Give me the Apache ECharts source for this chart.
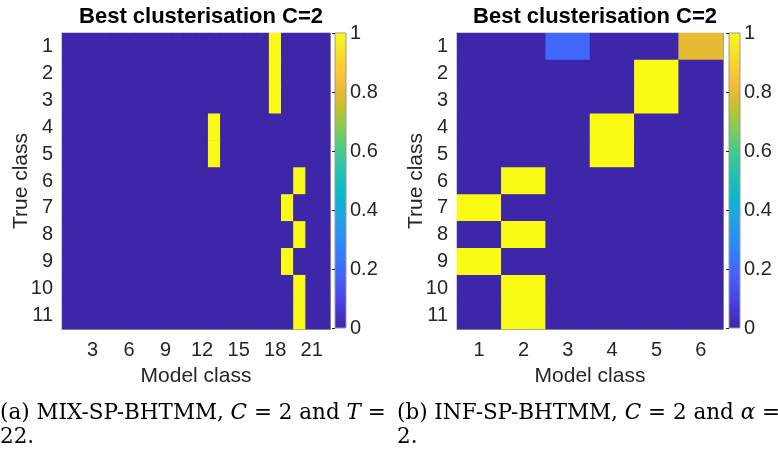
<!DOCTYPE html>
<html>
<head>
<meta charset="utf-8">
<script src="https://cdn.jsdelivr.net/npm/echarts@6/dist/echarts.min.js"></script>
<style>
  html, body { margin: 0; padding: 0; background: #fff; }
  #main { width: 778px; height: 452px; }
</style>
</head>
<body>
<div id="main"></div>
<script>
// true classes (rows) and model classes (columns)
var trueClasses = ['1', '2', '3', '4', '5', '6', '7', '8', '9', '10', '11'];
var leftModelClasses = [];
for (var k = 1; k <= 22; k++) leftModelClasses.push(String(k));
var rightModelClasses = ['1', '2', '3', '4', '5', '6'];

// (a) MIX-SP-BHTMM: model class that gets value 1 for each true class
var leftAssign = [18, 18, 18, 13, 13, 20, 19, 20, 19, 20, 20];

// (b) INF-SP-BHTMM: full matrix, one row per true class
var rightValues = [
  [0, 0, 0.2, 0, 0, 0.8],
  [0, 0, 0, 0, 1, 0],
  [0, 0, 0, 0, 1, 0],
  [0, 0, 0, 1, 0, 0],
  [0, 0, 0, 1, 0, 0],
  [0, 1, 0, 0, 0, 0],
  [1, 0, 0, 0, 0, 0],
  [0, 1, 0, 0, 0, 0],
  [1, 0, 0, 0, 0, 0],
  [0, 1, 0, 0, 0, 0],
  [0, 1, 0, 0, 0, 0]
];

// parula colormap, evenly spaced stops
var parula = ['#3E26A8', '#4537D5', '#484DF0', '#4563FD', '#327CFC', '#2B91EF', '#20A5E3', '#08B5D0',
  '#19BFB6', '#31C69F', '#57CC7A', '#8FCB4E', '#C5C22A', '#F0BA36', '#FEC934', '#F5E327', '#F9FB15'];

var leftData = [];
leftAssign.forEach(function (col, r) {
  for (var c = 0; c < leftModelClasses.length; c++) {
    leftData.push([c, r, (c + 1) === col ? 1 : 0]);
  }
});
var rightData = [];
rightValues.forEach(function (row, r) {
  row.forEach(function (v, c) { rightData.push([c, r, v]); });
});

var font = 'Liberation Sans';
var txt = '#262626';
var boxColor = '#9a9a9a';
var capFont = 'DejaVu Serif';
var capSize = 21.5;

function gradient() {
  var stops = parula.map(function (c, i) { return { offset: i / (parula.length - 1), color: c }; });
  return new echarts.graphic.LinearGradient(0, 1, 0, 0, stops);
}

function xAxes(grid, cats, showFn) {
  return [{
    type: 'category', gridIndex: grid, data: cats, position: 'bottom',
    name: 'Model class', nameLocation: 'middle', nameGap: 37, nameMoveOverlap: false,
    nameTextStyle: { fontFamily: font, fontSize: 21, color: txt },
    axisLine: { lineStyle: { color: boxColor } },
    axisTick: { inside: true, length: 3, alignWithLabel: true, interval: showFn, lineStyle: { color: txt } },
    axisLabel: { interval: showFn, fontFamily: font, fontSize: 20, color: txt, margin: 11 },
    splitLine: { show: false }
  }, {
    type: 'category', gridIndex: grid, data: cats, position: 'top',
    axisLine: { lineStyle: { color: boxColor } },
    axisTick: { inside: true, length: 3, alignWithLabel: true, interval: showFn, lineStyle: { color: txt } },
    axisLabel: { show: false }
  }];
}

function yAxes(grid) {
  return [{
    type: 'category', gridIndex: grid, data: trueClasses, inverse: true, position: 'left',
    name: 'True class', nameLocation: 'middle', nameGap: 30, nameRotate: 90, nameMoveOverlap: false,
    nameTextStyle: { fontFamily: font, fontSize: 21, color: txt },
    axisLine: { lineStyle: { color: boxColor } },
    axisTick: { inside: true, length: 3, alignWithLabel: true, lineStyle: { color: txt } },
    axisLabel: { fontFamily: font, fontSize: 20, color: txt, margin: 9 }
  }, {
    type: 'category', gridIndex: grid, data: trueClasses, inverse: true, position: 'right',
    axisLine: { lineStyle: { color: boxColor } },
    axisTick: { inside: true, length: 3, alignWithLabel: true, lineStyle: { color: txt } },
    axisLabel: { show: false }
  }];
}

var everyThird = function (i) { return (i + 1) % 3 === 0; };
var every = function () { return true; };

var xs = xAxes(0, leftModelClasses, everyThird).concat(xAxes(1, rightModelClasses, every));
var ys = yAxes(0).concat(yAxes(1));

// colorbars
[2, 3].forEach(function (g) {
  xs.push({ type: 'value', gridIndex: g, show: false, min: 0, max: 1 });
  ys.push({
    type: 'value', gridIndex: g, min: 0, max: 1, interval: 0.2, position: 'right',
    axisLine: { show: false },
    axisTick: { show: true, inside: true, length: 3, lineStyle: { color: txt } },
    axisLabel: { fontFamily: font, fontSize: 20, color: txt, margin: 4 },
    splitLine: { show: false }
  });
});

var titleStyle = { fontFamily: font, fontSize: 22, fontWeight: 'bold', color: '#000' };

var chart = echarts.init(document.getElementById('main'));
chart.setOption({
  animation: false,
  backgroundColor: '#fff',
  title: [
    { text: 'Best clusterisation C=2', left: 196, top: 1, textAlign: 'center', textStyle: titleStyle },
    { text: 'Best clusterisation C=2', left: 590, top: 1, textAlign: 'center', textStyle: titleStyle }
  ],
  grid: [
    { left: 62, top: 33, width: 268, height: 296, show: true, backgroundColor: parula[0], borderWidth: 0 },
    { left: 457, top: 33, width: 266, height: 296, show: true, backgroundColor: parula[0], borderWidth: 0 },
    { left: 335, top: 33, width: 11, height: 295, show: true, backgroundColor: gradient(), borderColor: boxColor, borderWidth: 1 },
    { left: 729, top: 33, width: 11, height: 295, show: true, backgroundColor: gradient(), borderColor: boxColor, borderWidth: 1 }
  ],
  xAxis: xs,
  yAxis: ys,
  visualMap: [
    { show: false, seriesIndex: 0, min: 0, max: 1, inRange: { color: parula } },
    { show: false, seriesIndex: 1, min: 0, max: 1, inRange: { color: parula } }
  ],
  series: [
    { type: 'heatmap', xAxisIndex: 0, yAxisIndex: 0, data: leftData, itemStyle: { borderWidth: 0 } },
    { type: 'heatmap', xAxisIndex: 2, yAxisIndex: 2, data: rightData, itemStyle: { borderWidth: 0 } }
  ],
  graphic: [
    { type: 'text', x: 0, y: 413, style: {
      text: '(a) MIX-SP-BHTMM, {i|C} = 2 and {i|T} =', fontFamily: capFont, fontSize: capSize, fill: '#000', verticalAlign: 'middle',
      rich: { i: { fontStyle: 'italic', fontFamily: capFont, fontSize: capSize } } } },
    { type: 'text', x: 0, y: 437, style: { text: '22.', fontFamily: capFont, fontSize: capSize, fill: '#000', verticalAlign: 'middle' } },
    { type: 'text', x: 397, y: 413, style: {
      text: '(b) INF-SP-BHTMM, {i|C} = 2 and {i|α} =', fontFamily: capFont, fontSize: capSize, fill: '#000', verticalAlign: 'middle',
      rich: { i: { fontStyle: 'italic', fontFamily: capFont, fontSize: capSize } } } },
    { type: 'text', x: 397, y: 437, style: { text: '2.', fontFamily: capFont, fontSize: capSize, fill: '#000', verticalAlign: 'middle' } }
  ]
});
</script>
</body>
</html>
